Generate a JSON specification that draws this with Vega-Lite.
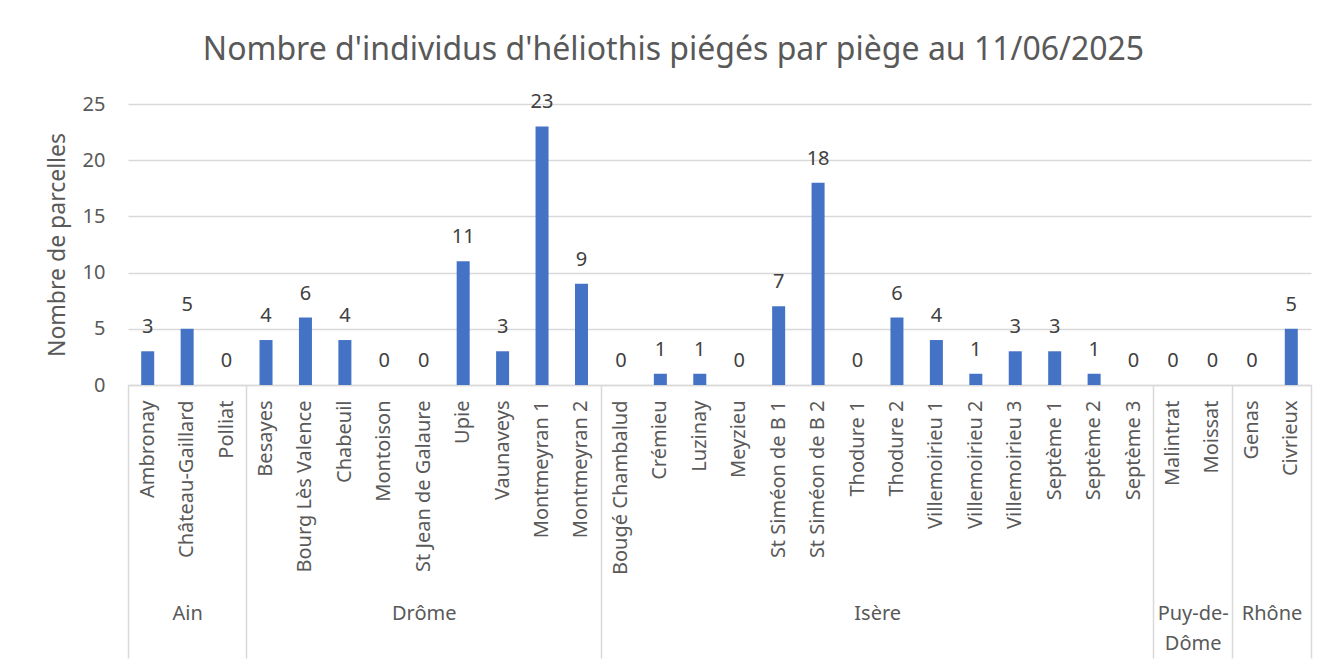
{
  "$schema": "https://vega.github.io/schema/vega-lite/v6.json",
  "autosize": "none",
  "width": 1183,
  "height": 281,
  "padding": {"left": 128, "top": 104, "right": 24, "bottom": 283},
  "background": "white",
  "config": {
    "font": "Noto Sans",
    "view": {"stroke": null},
    "axis": {"labelFont": "Noto Sans", "titleFont": "Noto Sans", "labelColor": "#595959", "titleColor": "#595959"}
  },
  "title": {
    "text": "Nombre d'individus d'héliothis piégés par piège au 11/06/2025",
    "font": "Noto Sans",
    "fontSize": 32,
    "fontWeight": "normal",
    "color": "#595959",
    "anchor": "middle",
    "frame": "group",
    "dx": -46,
    "offset": 25
  },
  "datasets": {
    "sites": [
      {"departement": "Ain", "site": "Ambronay", "value": 3},
      {"departement": "Ain", "site": "Château-Gaillard", "value": 5},
      {"departement": "Ain", "site": "Polliat", "value": 0},
      {"departement": "Drôme", "site": "Besayes", "value": 4},
      {"departement": "Drôme", "site": "Bourg Lès Valence", "value": 6},
      {"departement": "Drôme", "site": "Chabeuil", "value": 4},
      {"departement": "Drôme", "site": "Montoison", "value": 0},
      {"departement": "Drôme", "site": "St Jean de Galaure", "value": 0},
      {"departement": "Drôme", "site": "Upie", "value": 11},
      {"departement": "Drôme", "site": "Vaunaveys", "value": 3},
      {"departement": "Drôme", "site": "Montmeyran 1", "value": 23},
      {"departement": "Drôme", "site": "Montmeyran 2", "value": 9},
      {"departement": "Isère", "site": "Bougé Chambalud", "value": 0},
      {"departement": "Isère", "site": "Crémieu", "value": 1},
      {"departement": "Isère", "site": "Luzinay", "value": 1},
      {"departement": "Isère", "site": "Meyzieu", "value": 0},
      {"departement": "Isère", "site": "St Siméon de B 1", "value": 7},
      {"departement": "Isère", "site": "St Siméon de B 2", "value": 18},
      {"departement": "Isère", "site": "Thodure 1", "value": 0},
      {"departement": "Isère", "site": "Thodure 2", "value": 6},
      {"departement": "Isère", "site": "Villemoirieu 1", "value": 4},
      {"departement": "Isère", "site": "Villemoirieu 2", "value": 1},
      {"departement": "Isère", "site": "Villemoirieu 3", "value": 3},
      {"departement": "Isère", "site": "Septème 1", "value": 3},
      {"departement": "Isère", "site": "Septème 2", "value": 1},
      {"departement": "Isère", "site": "Septème 3", "value": 0},
      {"departement": "Puy-de-Dôme", "site": "Malintrat", "value": 0},
      {"departement": "Puy-de-Dôme", "site": "Moissat", "value": 0},
      {"departement": "Rhône", "site": "Genas", "value": 0},
      {"departement": "Rhône", "site": "Civrieux", "value": 5}
    ],
    "groups": [
      {"departement": "Ain", "start": 0, "end": 3, "center": 1.5},
      {"departement": "Drôme", "start": 3, "end": 12, "center": 7.5},
      {"departement": "Isère", "start": 12, "end": 26, "center": 19},
      {"departement": "Puy-de-Dôme", "start": 26, "end": 28, "center": 27},
      {"departement": "Rhône", "start": 28, "end": 30, "center": 29}
    ]
  },
  "layer": [
    {
      "data": {"name": "sites"},
      "encoding": {
        "x": {
          "field": "site",
          "type": "nominal",
          "sort": null,
          "scale": {"paddingInner": 0.67, "paddingOuter": 0.335},
          "axis": {
            "title": null,
            "orient": "bottom",
            "labelAngle": -90,
            "labelAlign": "right",
            "labelBaseline": "middle",
            "labelFontSize": 20,
            "labelPadding": 15,
            "labelOverlap": false,
            "labelLimit": 400,
            "ticks": false,
            "tickSize": 0,
            "domain": true,
            "domainColor": "#d9d9d9",
            "domainWidth": 1.5,
            "grid": false
          }
        },
        "y": {
          "field": "value",
          "type": "quantitative",
          "scale": {"domain": [0, 25], "nice": false},
          "axis": {
            "title": "Nombre de parcelles",
            "titleFontSize": 23,
            "titleFontWeight": "normal",
            "titlePadding": 13,
            "values": [0, 5, 10, 15, 20, 25],
            "labelFontSize": 20,
            "labelPadding": 23,
            "ticks": false,
            "tickSize": 0,
            "domain": false,
            "grid": true,
            "gridColor": "#d9d9d9",
            "gridWidth": 1.5
          }
        }
      },
      "layer": [
        {"mark": {"type": "bar", "color": "#4472C4"}},
        {
          "mark": {"type": "text", "dy": -18, "baseline": "alphabetic", "fontSize": 20, "color": "#404040", "font": "Noto Sans"},
          "encoding": {"text": {"field": "value", "type": "quantitative"}}
        }
      ]
    },
    {
      "data": {"name": "groups"},
      "mark": {"type": "rule", "opacity": 0},
      "encoding": {
        "x": {
          "field": "start",
          "type": "quantitative",
          "scale": {"domain": [0, 30], "nice": false, "zero": false},
          "axis": {
            "orient": "bottom",
            "title": null,
            "values": [0, 3, 12, 26, 28, 30],
            "labels": false,
            "domain": false,
            "grid": false,
            "ticks": true,
            "tickSize": 273,
            "tickColor": "#d9d9d9",
            "tickWidth": 1.5
          }
        }
      }
    },
    {
      "data": {"name": "groups"},
      "mark": {"type": "text", "opacity": 0, "text": ""},
      "encoding": {
        "x": {
          "field": "center",
          "type": "quantitative",
          "scale": {"domain": [0, 30], "nice": false, "zero": false},
          "axis": {
            "orient": "bottom",
            "title": null,
            "values": [1.5, 7.5, 19, 27, 29],
            "labelExpr": "datum.value == 1.5 ? 'Ain' : datum.value == 7.5 ? 'Drôme' : datum.value == 19 ? 'Isère' : datum.value == 27 ? ['Puy-de-', 'Dôme'] : 'Rhône'",
            "labelFontSize": 20,
            "labelPadding": 218,
            "labelLineHeight": 30,
            "labelOverlap": false,
            "labelFlush": false,
            "labelBound": false,
            "labelAlign": "center",
            "labelBaseline": "top",
            "domain": false,
            "grid": false,
            "ticks": false,
            "tickSize": 0
          }
        }
      }
    }
  ],
  "resolve": {"scale": {"x": "independent"}, "axis": {"x": "independent"}}
}
